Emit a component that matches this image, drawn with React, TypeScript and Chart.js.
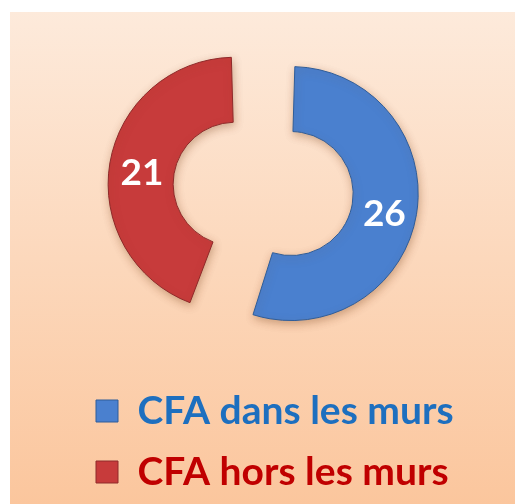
import React, { useEffect, useRef } from "react";
import { Chart, registerables } from "chart.js";

Chart.register(...registerables);

const categories = ["CFA dans les murs", "CFA hors les murs"];
const values = [26, 21];
const arcColors = ["#4a80cf", "#c73b3b"];
const arcBorders = ["#2f5d99", "#8f2a2a"];
const legendTextColors = ["#1d6fbf", "#c00000"];
const explodeOffsets = [92, 136];

const FONT = "Lato, 'Open Sans', sans-serif";

const backgroundPlugin = {
  id: "panelBackground",
  beforeDraw(chart: any) {
    const { ctx, width, height } = chart;
    ctx.save();
    ctx.fillStyle = "#ffffff";
    ctx.fillRect(0, 0, width, height);
    const g = ctx.createLinearGradient(0, 12, 0, height);
    g.addColorStop(0, "#fdeadb");
    g.addColorStop(1, "#fbc69d");
    ctx.fillStyle = g;
    ctx.fillRect(10, 12, width - 10, height - 12);
    ctx.restore();
  },
};

const arcDecorPlugin = {
  id: "arcDecor",
  beforeDatasetsDraw(chart: any) {
    const ctx = chart.ctx;
    ctx.save();
    ctx.shadowColor = "rgba(120,60,20,0.35)";
    ctx.shadowBlur = 8;
    ctx.shadowOffsetX = 1;
    ctx.shadowOffsetY = 3;
  },
  afterDatasetsDraw(chart: any) {
    const ctx = chart.ctx;
    ctx.restore();
    const meta = chart.getDatasetMeta(0);
    ctx.save();
    ctx.font = `bold 37px ${FONT}`;
    ctx.fillStyle = "#ffffff";
    ctx.textAlign = "center";
    ctx.textBaseline = "middle";
    const nudgeY = 5;
    meta.data.forEach((arc: any, i: number) => {
      const p = arc.getProps(
        ["x", "y", "startAngle", "endAngle", "innerRadius", "outerRadius", "circumference"],
        true
      );
      const off = (arc.options.offset || 0) / 4;
      const half = (p.startAngle + p.endAngle) / 2;
      const fix = 1 - Math.sin(Math.min(Math.PI, p.circumference));
      const cx = p.x + Math.cos(half) * off;
      const cy = p.y + Math.sin(half) * off;
      const r = (p.innerRadius + p.outerRadius) / 2 + off * fix;
      ctx.fillText(String(values[i]), cx + Math.cos(half) * r, cy + Math.sin(half) * r + nudgeY);
    });
    ctx.restore();
  },
};

export default function App() {
  const ref = useRef<HTMLCanvasElement | null>(null);
  useEffect(() => {
    if (!ref.current) return;
    const chart = new Chart(ref.current, {
      type: "doughnut",
      data: {
        labels: categories,
        datasets: [
          {
            data: values,
            backgroundColor: arcColors,
            borderColor: arcBorders,
            borderWidth: 1,
            offset: explodeOffsets,
          },
        ],
      },
      options: {
        animation: false,
        responsive: false,
        maintainAspectRatio: false,
        events: [],
        radius: 104,
        cutout: "37.5%",
        layout: { padding: { top: 10, left: 74, right: 52, bottom: 2.5 } },
        plugins: {
          tooltip: { enabled: false },
          legend: {
            display: true,
            position: "bottom",
            align: "start",
            labels: {
              boxWidth: 22,
              boxHeight: 22,
              padding: 22,
              font: { family: FONT, size: 39, weight: "bold" },
              generateLabels: () =>
                categories.map((c, i) => ({
                  text: c,
                  fillStyle: arcColors[i],
                  strokeStyle: arcBorders[i],
                  lineWidth: 1,
                  fontColor: legendTextColors[i],
                  hidden: false,
                  index: i,
                })),
            },
          },
        },
      } as any,
      plugins: [backgroundPlugin, arcDecorPlugin],
    });
    return () => chart.destroy();
  }, []);
  return (
    <div style={{ position: "absolute", left: 0, top: 0, width: 515, height: 504 }}>
      <canvas ref={ref} width={515} height={504} style={{ width: 515, height: 504, display: "block" }} />
    </div>
  );
}
